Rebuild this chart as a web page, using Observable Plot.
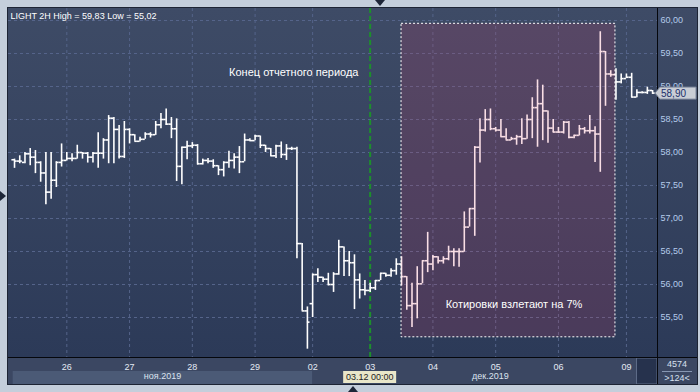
<!DOCTYPE html>
<html><head><meta charset="utf-8">
<script src="https://cdn.jsdelivr.net/npm/d3@7"></script>
<script src="https://cdn.jsdelivr.net/npm/@observablehq/plot@0.6"></script>
<style>
html,body{margin:0;padding:0;background:#c4cedb;}
#chart{width:700px;height:392px;}
</style></head><body><div id="chart"></div>
<script>
// ---- data (2H OHLC bars, LIGHT) ----
const opens = [57.89,57.87,57.85,57.98,57.93,57.85,57.69,57.40,57.58,57.85,
57.88,57.91,57.91,58.00,57.99,57.93,57.99,57.99,58.19,58.52,
58.35,57.94,58.35,58.27,58.17,58.20,58.28,58.27,58.42,58.50,
58.43,58.36,57.79,58.08,58.10,58.11,57.83,57.88,57.87,57.80,
57.74,57.85,57.88,57.93,57.86,58.19,58.18,58.25,58.11,58.06,
57.95,58.10,57.97,58.06,58.06,56.62,55.60,55.71,56.15,56.11,
56.08,56.00,56.16,56.57,56.36,56.33,56.07,55.92,55.91,55.95,
56.06,56.17,56.14,56.21,56.31,56.12,55.68,55.71,56.01,56.36,
56.31,56.42,56.36,56.39,56.50,56.50,56.50,56.87,57.15,58.08,
58.34,58.50,58.36,58.34,58.24,58.19,58.21,58.24,58.21,58.50,
58.68,58.74,58.63,58.37,58.31,58.31,58.46,58.23,58.26,58.36,
58.33,58.33,58.28,59.53,59.19,59.18,59.07,59.12,59.14,58.84,
58.91,58.91,58.94];
const highs = [57.90,57.95,58.00,58.06,58.03,57.86,58.00,58.00,57.86,58.13,
58.00,57.98,58.11,58.00,58.00,58.00,58.30,58.21,58.56,58.53,
58.41,58.47,58.36,58.27,58.23,58.30,58.30,58.47,58.59,58.66,
58.53,58.51,58.08,58.17,58.15,58.12,57.90,57.91,57.89,57.80,
57.86,58.02,57.98,58.09,58.28,58.21,58.26,58.25,58.11,58.06,
58.11,58.16,58.12,58.08,58.08,56.62,55.66,56.16,56.24,56.11,
56.17,56.18,56.67,56.57,56.50,56.45,56.16,56.06,56.02,56.06,
56.17,56.17,56.24,56.39,56.42,56.12,56.02,56.27,56.36,56.79,
56.44,56.42,56.42,56.58,56.54,56.54,57.10,57.15,58.09,58.51,
58.65,58.66,58.38,58.50,58.36,58.23,58.26,58.51,58.57,58.83,
59.10,59.02,58.63,58.50,58.38,58.47,58.47,58.26,58.41,58.38,
58.56,58.39,59.83,59.53,59.24,59.27,59.19,59.19,59.20,58.95,
58.92,58.99,58.94];
const lows = [57.76,57.83,57.83,57.80,57.68,57.55,57.21,57.29,57.47,57.78,
57.87,57.86,57.90,57.90,57.84,57.84,57.76,57.90,57.83,57.83,
57.90,57.91,58.13,58.17,58.16,58.20,58.22,58.26,58.36,58.41,
58.21,57.56,57.51,57.89,58.06,57.81,57.81,57.83,57.76,57.65,
57.63,57.76,57.75,57.68,57.86,58.17,58.18,58.06,58.00,57.94,
57.91,57.91,57.88,58.03,56.39,55.60,55.02,55.50,56.03,56.03,
55.98,55.88,56.14,56.12,56.12,55.62,55.78,55.83,55.88,55.91,
56.06,56.11,56.11,56.14,55.98,55.61,55.35,55.48,56.01,56.18,
56.21,56.31,56.31,56.36,56.27,56.26,56.49,56.87,56.73,57.84,
58.31,58.33,58.31,58.23,58.19,58.18,58.11,58.12,58.20,58.21,
58.08,58.18,58.14,58.30,58.29,58.28,58.21,58.21,58.25,58.28,
58.28,57.85,57.70,58.70,59.14,58.79,59.04,59.12,58.83,58.83,
58.89,58.88,58.88];
const closes = [57.87,57.87,57.98,57.93,57.85,57.69,57.40,57.58,57.85,57.88,
57.91,57.91,58.00,57.99,57.93,57.99,57.99,58.19,58.52,58.35,
57.94,58.35,58.27,58.17,58.20,58.28,58.27,58.42,58.50,58.43,
58.36,57.79,58.08,58.10,58.11,57.83,57.88,57.87,57.80,57.74,
57.85,57.88,57.93,57.86,58.19,58.18,58.25,58.11,58.06,57.95,
58.10,57.97,58.06,58.06,56.62,55.60,55.43,56.15,56.11,56.08,
56.00,56.16,56.57,56.36,56.33,56.07,55.92,55.91,55.95,56.06,
56.17,56.14,56.21,56.31,56.12,55.68,55.71,56.01,56.36,56.31,
56.42,56.36,56.39,56.50,56.50,56.50,56.87,57.15,58.08,58.34,
58.50,58.36,58.34,58.24,58.19,58.21,58.24,58.21,58.50,58.68,
58.74,58.63,58.37,58.31,58.31,58.46,58.23,58.26,58.36,58.33,
58.33,58.28,59.53,59.19,59.18,59.07,59.12,59.14,58.84,58.91,
58.91,58.94,58.90];

const dayLabels = ["26","27","28","29","02","03","04","05","06","09"];
const dayStart  = [10,22,34,46,57,68,80,92,104,117];   // bar index of first bar of each day
const monthLabels = ["ноя.2019","дек.2019"];
const monthCenter = [28.3,91];
const monthBandStart = [-0.25];
const monthBandEnd = [57];
const yTicks = [55.5,56,56.5,57,57.5,58,58.5,59,59.5,60];
const xDomain = [-1.15,122.94];
const yDomain = [54.894,60.182];

const titleText = ["LIGHT 2H High = 59,83 Low = 55,02"];
const reportIdx = [68];
const reportLabel = "03.12 00:00";
const zone = [{x1:74.0, x2:114.9, y1:55.20, y2:59.95}];
const notes = ["Конец отчетного периода","Котировки взлетают на 7%"];
const noteX = [53.4,95.5];
const noteY = [59.21,55.70];
const barCount = "4574";
const visibleBars = ">124<";

// ---- build ----
const bars = opens.map((o,i)=>({i, open:o, high:highs[i], low:lows[i], close:closes[i]}));
const fmt = v => v.toFixed(2).replace(".", ",");
const FONT = "'Liberation Sans', Arial, sans-serif";
const barColor = "#ffffff";
const BW = 1.6;

const chart = Plot.plot({
  width: 700, height: 392,
  marginLeft: 8, marginRight: 43, marginTop: 8, marginBottom: 35,
  style: {background: "#c4cedb", fontFamily: FONT, fontSize: "9px", overflow: "visible"},
  x: {domain: xDomain},
  y: {domain: yDomain},
  marks: [
    Plot.ruleY(yTicks, {stroke: "#55648a", strokeDasharray: "3,3", strokeWidth: 1}),
    Plot.ruleX(dayStart.filter(d => !reportIdx.includes(d)), {stroke: "#55648a", strokeDasharray: "3,3", strokeWidth: 1}),
    Plot.ruleX(reportIdx, {stroke: "#1d8f2c", strokeWidth: 2, strokeDasharray: "5,3"}),
    Plot.ruleX(bars, {x: "i", y1: "low", y2: "high", stroke: barColor, strokeWidth: BW}),
    Plot.ruleY(bars, {y: "open", x1: d => d.i - 0.5, x2: "i", stroke: barColor, strokeWidth: BW}),
    Plot.ruleY(bars, {y: "close", x1: "i", x2: d => d.i + 0.5, stroke: barColor, strokeWidth: BW}),
    Plot.rect(zone, {x1: "x1", x2: "x2", y1: "y1", y2: "y2", fill: "rgb(222,58,100)", fillOpacity: 0.17,
      stroke: "#ffffff", strokeWidth: 1, strokeDasharray: "2,2"}),
    Plot.text(notes, {x: (d,i) => noteX[i], y: (d,i) => noteY[i], text: d => d, fill: "#ffffff", fontSize: 11, fontFamily: FONT}),
    Plot.text(titleText, {frameAnchor: "top-left", lineAnchor: "top", dx: 2, dy: 4, fill: "#ffffff", fontSize: 9, fontFamily: FONT}),
    Plot.axisY({anchor: "right", ticks: yTicks, tickFormat: fmt, tickSize: 0, tickPadding: 3, fill: "#b4cbea", fontSize: 9, fontFamily: FONT}),
    Plot.axisX({anchor: "bottom", ticks: dayStart, tickFormat: d => dayLabels[dayStart.indexOf(d)], tickSize: 0, tickPadding: 6, fill: "#e4eaf4", fontSize: 9, fontFamily: FONT}),
    Plot.axisX({anchor: "bottom", ticks: monthCenter, tickFormat: d => monthLabels[monthCenter.indexOf(d)], tickSize: 0, tickPadding: 15.5, fill: "#dbe3ef", fontSize: 9, fontFamily: FONT})
  ]
});
document.getElementById("chart").appendChild(chart);

// ---- chrome (panels, markers) using the plot's scales ----
const svg = d3.select(chart);
const xs = chart.scale("x"), ys = chart.scale("y");
const L = 8, T = 8, R = 697, B = 384, PR = 657, PB = 357;

const defs = svg.insert("defs", ":first-child");
const grad = defs.append("linearGradient").attr("id", "panelBg")
  .attr("gradientUnits", "userSpaceOnUse").attr("x1", 0).attr("y1", T).attr("x2", 0).attr("y2", PB);
grad.append("stop").attr("offset", "0%").attr("stop-color", "#3e4b66");
grad.append("stop").attr("offset", "100%").attr("stop-color", "#2c3a58");

const bg = svg.insert("g", "defs + *");
bg.append("rect").attr("x", L).attr("y", T).attr("width", R - L).attr("height", PB - T).attr("fill", "url(#panelBg)");
bg.append("rect").attr("x", L).attr("y", PB).attr("width", R - L).attr("height", B - PB).attr("fill", "#3b4762");
bg.append("rect").attr("x", xs.apply(monthBandStart[0])).attr("y", 371)
  .attr("width", xs.apply(monthBandEnd[0]) - xs.apply(monthBandStart[0])).attr("height", B - 371).attr("fill", "#4b5a76");
bg.append("rect").attr("x", 636.5).attr("y", PB + 1).attr("width", PR - 636.5).attr("height", B - PB - 1)
  .attr("fill", "#26324d").attr("stroke", "#5d6b87").attr("stroke-width", 1);
bg.append("rect").attr("x", L - 0.5).attr("y", T - 0.5).attr("width", R - L + 1).attr("height", B - T + 1)
  .attr("fill", "none").attr("stroke", "#1d2434");
bg.append("line").attr("x1", PR + 0.5).attr("x2", PR + 0.5).attr("y1", T).attr("y2", B).attr("stroke", "#05070c");
bg.append("line").attr("x1", L).attr("x2", R).attr("y1", PB + 0.5).attr("y2", PB + 0.5).attr("stroke", "#05070c");

const fg = svg.append("g").attr("text-anchor", "start");
// last price marker
const lastY = ys.apply(closes[closes.length - 1]);
fg.append("path")
  .attr("d", `M${PR - 2},${lastY + 0.5} L${PR + 3},${lastY - 5.5} L${R - 1},${lastY - 5.5} L${R - 1},${lastY + 6.5} L${PR + 3},${lastY + 6.5} Z`)
  .attr("fill", "#c9cdd5").attr("stroke", "#7c879c");
fg.append("text").attr("x", PR + 4).attr("y", lastY + 0.5).attr("dy", "0.35em").attr("text-anchor", "start")
  .attr("fill", "#1c2f6a").attr("font-size", 10).attr("font-family", FONT)
  .text(fmt(closes[closes.length - 1]));
// report date box
const rx = xs.apply(reportIdx[0]);
fg.append("rect").attr("x", rx - 26.5).attr("y", 371).attr("width", 53).attr("height", 12).attr("fill", "#e9e6c9");
fg.append("text").attr("x", rx).attr("y", 377).attr("dy", "0.34em").attr("text-anchor", "middle")
  .attr("fill", "#1e1e1e").attr("font-size", 9).attr("font-family", FONT).text(reportLabel);
// bottom-right counters
fg.append("text").attr("x", 677).attr("y", 364).attr("dy", "0.34em").attr("text-anchor", "middle")
  .attr("fill", "#d6e0ef").attr("font-size", 9).attr("font-family", FONT).text(barCount);
fg.append("line").attr("x1", 662).attr("x2", 692).attr("y1", 371.5).attr("y2", 371.5).attr("stroke", "#8797b2");
fg.append("text").attr("x", 677).attr("y", 378).attr("dy", "0.34em").attr("text-anchor", "middle")
  .attr("fill", "#d6e0ef").attr("font-size", 9).attr("font-family", FONT).text(visibleBars);
// small navigation triangles
fg.append("path").attr("d", "M375,0 L385,0 L380,6 Z").attr("fill", "#1e2638");
fg.append("path").attr("d", "M348,392 L358,392 L353,386 Z").attr("fill", "#1e2638");
fg.append("path").attr("d", "M0,191 L0,201 L6,196 Z").attr("fill", "#1e2638");
</script>
</body></html>
